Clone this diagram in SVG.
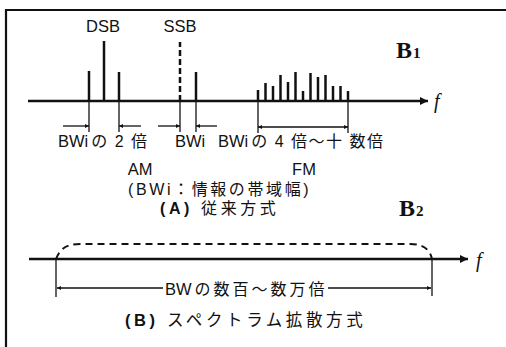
<svg xmlns="http://www.w3.org/2000/svg" width="506" height="347" viewBox="0 0 506 347">
<defs>
<marker id="ah" viewBox="0 0 10 10" refX="10" refY="5" markerWidth="6" markerHeight="4" markerUnits="userSpaceOnUse" orient="auto"><path d="M0,0 L10,5 L0,10 z" fill="#111"/></marker>
<marker id="axh" viewBox="0 0 10 10" refX="10" refY="5" markerWidth="13" markerHeight="8" markerUnits="userSpaceOnUse" orient="auto"><path d="M0,0 L10,5 L0,10 z" fill="#111"/></marker>
</defs>
<style>
.t{font-family:"Liberation Sans","Noto Sans CJK JP",sans-serif;font-size:16.5px;fill:#111}
.j{font-family:"Liberation Sans","Noto Sans CJK JP",sans-serif;font-size:16px;fill:#111;letter-spacing:3px}
.b{font-family:"Liberation Serif",serif;font-weight:bold;fill:#111}
.f{font-family:"Liberation Serif",serif;font-style:italic;font-size:20px;fill:#111}
.ax{stroke:#111;stroke-width:2.5;fill:none}
.sp{stroke:#111;stroke-width:2.5}
.dim{stroke:#111;stroke-width:1.3;fill:none}
</style>
<rect width="506" height="347" fill="#fff"/>
<g id="frame"><path d="M6,347 L6,10 L506,10" stroke="#111" stroke-width="2.2" fill="none"/></g>

<g id="panelA">
<g id="axis1"><line class="ax" x1="28" y1="101" x2="428" y2="101" marker-end="url(#axh)"/><text class="f" x="434" y="108">f</text></g>
<g id="label-B1"><text class="b" x="396" y="58" font-size="24">B<tspan font-size="15" dx="1">1</tspan></text></g>
<g id="dsb">
<text class="t" x="103" y="32" text-anchor="middle">DSB</text>
<line class="sp" x1="89" y1="101" x2="89" y2="71"/>
<line class="sp" x1="104" y1="101" x2="104" y2="41"/>
<line class="sp" x1="119" y1="101" x2="119" y2="72"/>
</g>
<g id="ssb">
<text class="t" x="180" y="32" text-anchor="middle">SSB</text>
<line class="sp" x1="180" y1="101" x2="180" y2="42" stroke-dasharray="6,3"/>
<line class="sp" x1="196" y1="101" x2="196" y2="72"/>
</g>
<g id="fm" class="sp">
<line x1="258" y1="101" x2="258" y2="90"/>
<line x1="265.5" y1="101" x2="265.5" y2="83"/>
<line x1="273" y1="101" x2="273" y2="86"/>
<line x1="280.5" y1="101" x2="280.5" y2="75"/>
<line x1="288" y1="101" x2="288" y2="82"/>
<line x1="295.5" y1="101" x2="295.5" y2="72"/>
<line x1="303" y1="101" x2="303" y2="91"/>
<line x1="310.5" y1="101" x2="310.5" y2="73"/>
<line x1="318" y1="101" x2="318" y2="77"/>
<line x1="325.5" y1="101" x2="325.5" y2="75"/>
<line x1="333" y1="101" x2="333" y2="86"/>
<line x1="340.5" y1="101" x2="340.5" y2="86"/>
<line x1="348" y1="101" x2="348" y2="91"/>
</g>
<g id="connectors">
<g class="dim">
<line x1="89" y1="101" x2="89" y2="132"/>
<line x1="119" y1="101" x2="119" y2="132"/>
<line x1="180" y1="101" x2="180" y2="132"/>
<line x1="196" y1="101" x2="196" y2="132"/>
<line x1="258" y1="101" x2="258" y2="133"/>
<line x1="348" y1="101" x2="348" y2="133"/>
<line x1="63" y1="126" x2="89" y2="126" marker-end="url(#ah)"/>
<line x1="141" y1="126" x2="119" y2="126" marker-end="url(#ah)"/>
<line x1="158" y1="126" x2="180" y2="126" marker-end="url(#ah)"/>
<line x1="217" y1="126" x2="196" y2="126" marker-end="url(#ah)"/>
<line x1="303" y1="127" x2="258" y2="127" marker-end="url(#ah)"/>
<line x1="303" y1="127" x2="348" y2="127" marker-end="url(#ah)"/>
</g>
</g>
<g id="labelsA">
<text class="t" x="58" y="147">BWi<tspan class="j" dx="3" style="letter-spacing:1.5px">の 2 倍</tspan></text>
<text class="t" x="175" y="147">BWi</text>
<text class="t" x="218" y="147">BWi<tspan class="j" dx="3" style="letter-spacing:1.5px">の 4 倍〜十 数倍</tspan></text>
<text class="t" x="140" y="175" text-anchor="middle">AM</text>
<text class="t" x="304" y="175" text-anchor="middle">FM</text>
<text class="j" x="128" y="195" style="letter-spacing:2.6px">(BWi：情報の帯域幅)</text>
<text class="j" x="160" y="214" style="letter-spacing:3.6px"><tspan font-weight="bold">(A)</tspan> 従来方式</text>
</g>
</g>

<g id="panelB">
<g id="label-B2"><text class="b" x="399" y="216" font-size="24">B<tspan font-size="15" dx="1">2</tspan></text></g>
<g id="axis2"><line class="ax" x1="29" y1="259" x2="468" y2="259" marker-end="url(#axh)"/><text class="f" x="476" y="267">f</text></g>
<g id="spread"><path d="M56,259 C60,249 66,244 80,244 L410,244 C424,244 430,250 432,259" fill="none" stroke="#111" stroke-width="2" stroke-dasharray="7,5"/></g>
<g id="connectorsB" class="dim">
<line x1="56" y1="259" x2="56" y2="297"/>
<line x1="432" y1="259" x2="432" y2="296"/>
<line x1="163" y1="288" x2="57" y2="288" marker-end="url(#ah)"/>
<line x1="328" y1="288" x2="431" y2="288" marker-end="url(#ah)"/>
</g>
<g id="labelsB">
<text class="t" x="165" y="295">BW<tspan class="j" dx="3">の数百〜数万倍</tspan></text>
<text class="j" x="125" y="326" style="font-size:16.5px;letter-spacing:3.6px"><tspan font-weight="bold">(B)</tspan> スペクトラム拡散方式</text>
</g>
</g>
</svg>
